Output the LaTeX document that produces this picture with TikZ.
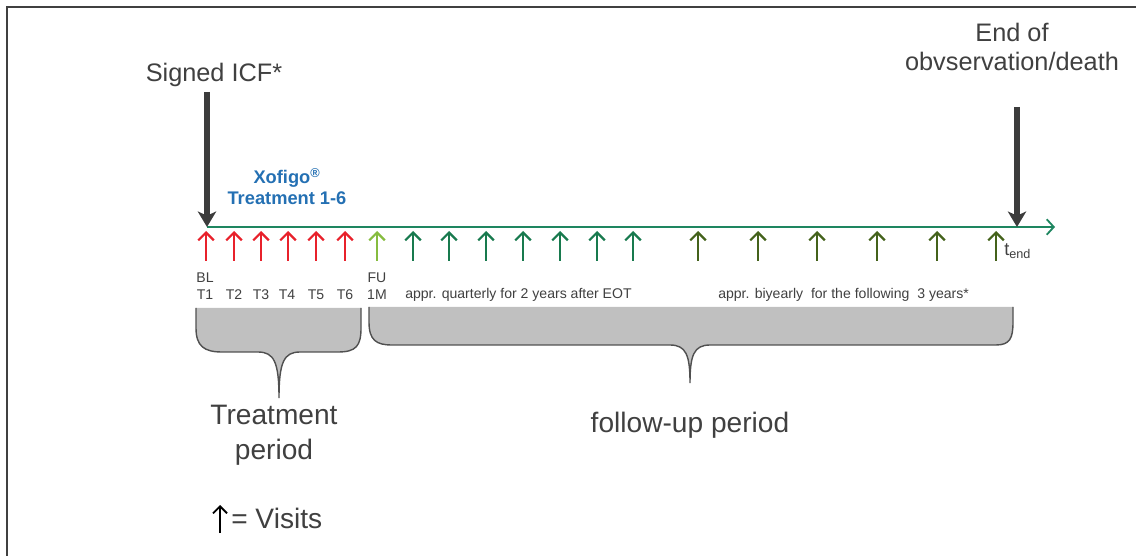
\documentclass[tikz,border=0pt]{standalone}
\usepackage{fontspec}
\setmainfont{Liberation Sans}
\usetikzlibrary{arrows.meta}

\definecolor{txtgray}{HTML}{404040}
\definecolor{arrgray}{HTML}{3C3C3C}
\definecolor{visred}{HTML}{E8212B}
\definecolor{visfu}{HTML}{86BC3F}
\definecolor{visteal}{HTML}{187A4E}
\definecolor{visolive}{HTML}{44621B}
\definecolor{lineteal}{HTML}{1E8660}
\definecolor{xoblue}{HTML}{2470B3}
\definecolor{bracegray}{HTML}{C0C0C0}
\definecolor{braceline}{HTML}{505050}

\begin{document}
\begin{tikzpicture}[x=0.025cm, y=-0.025cm]
\tikzset{visit/.style={line width=1.6pt, -{Straight Barb[length=5.5pt,width=11pt]}},
  bigarrow/.style={arrgray, line width=3.6pt, -{Stealth[length=11pt,width=13pt,inset=3pt]}},
  timeline/.style={lineteal, line width=1.3pt, -{Straight Barb[length=5pt,width=11pt]}},
  smalltxt/.style={txtgray, font=\fontsize{10}{12}\selectfont, inner sep=0pt},
  bigtxt/.style={txtgray, font=\fontsize{18}{21}\selectfont, inner sep=0pt, align=center},
  periodtxt/.style={txtgray, font=\fontsize{20}{25}\selectfont, inner sep=0pt, align=center},
  bluetxt/.style={xoblue, font=\fontsize{13}{15}\selectfont\bfseries, inner sep=0pt, align=center},
  bracefill/.style={fill=bracegray},
  braceedge/.style={draw=braceline, line width=1pt}}
\useasboundingbox (0,0) rectangle (1136,556);
\draw[txtgray, line width=1.5pt] (7,556) -- (7,7) -- (1136,7);

% titles
\node[bigtxt] (icf) at (214,75) {Signed ICF*};
\node[bigtxt] (endobs) at (1012,47) {End of\\obvservation/death};
\node[bluetxt] (xofigo) at (287,187) {Xofigo\textsuperscript{®}\\Treatment 1-6};

% time axis
\coordinate (icftop) at (207,92);
\coordinate (tstart) at (207,227);
\coordinate (endtop) at (1017,107);
\coordinate (tstop) at (1017,227);
\coordinate (tarrow) at (1055,227);
\draw[timeline] (tstart) -- (tarrow);
\draw[bigarrow] (icftop) -- (tstart);
\draw[bigarrow] (endtop) -- (tstop);

% visits
\draw[visit, visred] (206,261) -- (206,231);
\draw[visit, visred] (234,261) -- (234,231);
\draw[visit, visred] (261,261) -- (261,231);
\draw[visit, visred] (288,261) -- (288,231);
\draw[visit, visred] (316,261) -- (316,231);
\draw[visit, visred] (345,261) -- (345,231);
\draw[visit, visfu] (377,261) -- (377,231);
\draw[visit, visteal] (413,261) -- (413,231);
\draw[visit, visteal] (449,261) -- (449,231);
\draw[visit, visteal] (486,261) -- (486,231);
\draw[visit, visteal] (523,261) -- (523,231);
\draw[visit, visteal] (560,261) -- (560,231);
\draw[visit, visteal] (597,261) -- (597,231);
\draw[visit, visteal] (633,261) -- (633,231);
\draw[visit, visolive] (698,261) -- (698,231);
\draw[visit, visolive] (758,261) -- (758,231);
\draw[visit, visolive] (817,261) -- (817,231);
\draw[visit, visolive] (877,261) -- (877,231);
\draw[visit, visolive] (937,261) -- (937,231);
\draw[visit, visolive] (996,261) -- (996,231);
\node[txtgray, anchor=west, inner sep=0pt] (tend) at (1004,251)
  {\fontsize{13}{14}\selectfont t\raisebox{-0.35ex}{\fontsize{9}{10}\selectfont end}};

% visit labels
\node[smalltxt] (bl) at (205,278) {BL};
\node[smalltxt] (t1) at (205,295) {T1};
\node[smalltxt] (t2) at (234,295) {T2};
\node[smalltxt] (t3) at (261,295) {T3};
\node[smalltxt] (t4) at (287,295) {T4};
\node[smalltxt] (t5) at (316,295) {T5};
\node[smalltxt] (t6) at (345,295) {T6};
\node[smalltxt] (fu) at (377,278) {FU};
\node[smalltxt] (fu1m) at (377,295) {1M};
\node[smalltxt, anchor=west] (quarterly) at (405,295) {appr. quarterly for 2 years after EOT};
\node[smalltxt, anchor=west] (biyearly) at (718,295) {appr. biyearly\ \ for the following\ \ 3 years*};

% braces
\fill[bracefill] (196,308) -- (196,328) .. controls (196,346) and (204,352) .. (222,352)
  -- (258,352) .. controls (274,352) and (279,362) .. (279,398)
  .. controls (279,362) and (284,352) .. (300,352) -- (338,352)
  .. controls (356,352) and (361,346) .. (361,328) -- (361,308) -- cycle;
\draw[braceedge] (196,308) -- (196,328) .. controls (196,346) and (204,352) .. (222,352)
  -- (258,352) .. controls (274,352) and (279,362) .. (279,398)
  .. controls (279,362) and (284,352) .. (300,352) -- (338,352)
  .. controls (356,352) and (361,346) .. (361,328) -- (361,308);
\fill[bracefill] (369,307) -- (369,322) .. controls (369,340) and (376,345) .. (392,345)
  -- (670,345) .. controls (686,345) and (690,355) .. (690,383)
  .. controls (690,355) and (694,345) .. (710,345) -- (996,345)
  .. controls (1010,345) and (1013,338) .. (1013,322) -- (1013,307) -- cycle;
\draw[braceedge] (369,307) -- (369,322) .. controls (369,340) and (376,345) .. (392,345)
  -- (670,345) .. controls (686,345) and (690,355) .. (690,383)
  .. controls (690,355) and (694,345) .. (710,345) -- (996,345)
  .. controls (1010,345) and (1013,338) .. (1013,322) -- (1013,307);
\node[periodtxt] (treatper) at (274,435) {Treatment\\period};
\node[periodtxt] (fuper) at (690,425) {follow-up\ period};

% legend
\coordinate (leg0) at (220,533);
\coordinate (leg1) at (220,505);
\draw[black, line width=1.3pt, -{Straight Barb[length=5pt,width=10pt]}] (leg0) -- (leg1);
\node[periodtxt, anchor=west] (visits) at (231,518) {= Visits};
\end{tikzpicture}
\end{document}
